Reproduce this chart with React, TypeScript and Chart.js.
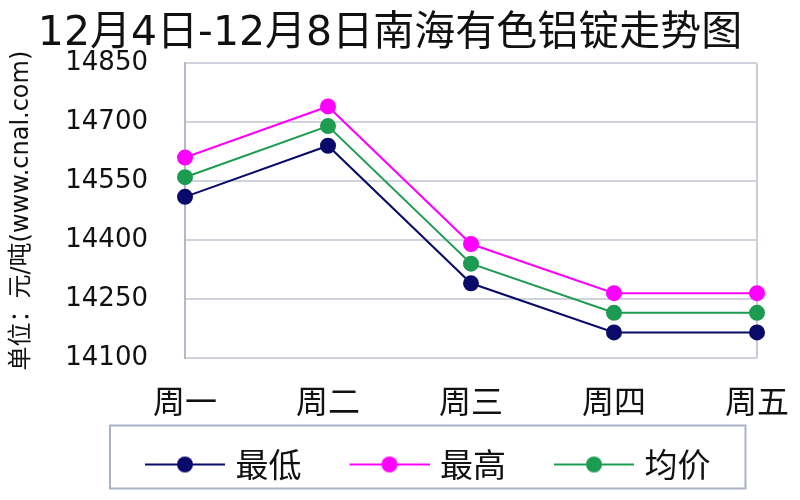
import { useEffect, useRef } from "react";
import { Chart, registerables } from "chart.js";

Chart.register(...registerables);

const titleText = "12月4日-12月8日南海有色铝锭走势图";
const yAxisTitle = "单位：元/吨(www.cnal.com)";
const categories = ["周一", "周二", "周三", "周四", "周五"];
const seriesNames = ["最低", "最高", "均价"];
const lowValues = [14510, 14640, 14290, 14165, 14165];
const highValues = [14610, 14740, 14390, 14265, 14265];
const avgValues = [14560, 14690, 14340, 14215, 14215];
const yMin = 14100;
const yMax = 14850;
const yStep = 150;

const seriesColors = ["#0a0a6a", "#ff00ff", "#1c9c50"];

const CJK = "'Noto Sans CJK SC', sans-serif";
const NUM = "'DejaVu Sans', 'Noto Sans CJK SC', sans-serif";

function makeIcon(color: string): HTMLCanvasElement {
  const c = document.createElement("canvas");
  c.width = 108;
  c.height = 20;
  const g = c.getContext("2d")!;
  g.strokeStyle = color;
  g.lineWidth = 2;
  g.beginPath();
  g.moveTo(28, 10);
  g.lineTo(108, 10);
  g.stroke();
  g.fillStyle = color;
  g.beginPath();
  g.arc(68, 10, 8, 0, Math.PI * 2);
  g.fill();
  return c;
}

export default function App() {
  const ref = useRef<HTMLCanvasElement | null>(null);

  useEffect(() => {
    document.body.style.margin = "0";
    const canvas = ref.current;
    if (!canvas) return;
    const icons = seriesColors.map(makeIcon);
    const values = [lowValues, highValues, avgValues];

    const legendFrame = {
      id: "legendFrame",
      afterLayout(chart: any) {
        const lg = chart.legend;
        if (lg && lg.lineWidths) {
          const pad = lg.options.labels.padding;
          const start = (lg.left + pad + lg.right - lg.lineWidths[0]) / 2;
          const shift = 123 - start;
          lg.left += shift;
          lg.right += shift;
        }
        const tb = chart.titleBlock;
        if (tb) {
          const shift = 390 - (tb.left + tb.right) / 2;
          tb.left += shift;
          tb.right += shift;
        }
      },
      afterDraw(chart: any) {
        const lg = chart.legend;
        if (!lg || !lg.legendHitBoxes || !lg.legendHitBoxes.length) return;
        const hb = lg.legendHitBoxes;
        const minX = Math.min(...hb.map((h: any) => h.left));
        const maxX = Math.max(...hb.map((h: any) => h.left + h.width));
        const cy = hb[0].top + hb[0].height / 2;
        const ctx = chart.ctx;
        ctx.save();
        ctx.strokeStyle = "#a9b1c2";
        ctx.lineWidth = 2;
        ctx.strokeRect(minX - 13, cy - 39, maxX - minX + 48, 63);
        ctx.restore();
      },
    };

    const chart = new Chart(canvas, {
      type: "line",
      data: {
        labels: categories,
        datasets: seriesNames.map((name, i) => ({
          label: name,
          data: values[i],
          borderColor: seriesColors[i],
          backgroundColor: seriesColors[i],
          pointBackgroundColor: seriesColors[i],
          pointBorderColor: seriesColors[i],
          borderWidth: 2,
          pointRadius: 7,
          pointHoverRadius: 7,
          tension: 0,
          fill: false,
        })),
      },
      options: {
        animation: false,
        responsive: false,
        maintainAspectRatio: false,
        layout: { padding: { left: 0, right: 43, top: 0, bottom: 9 } },
        plugins: {
          title: {
            display: true,
            text: titleText,
            color: "#111",
            font: { family: NUM, size: 41, weight: "normal" },
            padding: { top: 10, bottom: 4 },
          },
          legend: {
            display: true,
            position: "bottom",
            labels: {
              usePointStyle: true,
              pointStyleWidth: 96,
              boxHeight: 20,
              padding: 26,
              color: "#111",
              font: { family: CJK, size: 33 },
              generateLabels: (ch: any) =>
                ch.data.datasets.map((ds: any, i: number) => ({
                  text: ds.label,
                  pointStyle: icons[i],
                  fillStyle: seriesColors[i],
                  strokeStyle: seriesColors[i],
                  lineWidth: 0,
                  hidden: false,
                  datasetIndex: i,
                  fontColor: "#111",
                })),
            },
          },
          tooltip: { enabled: false },
        },
        scales: {
          x: {
            offset: false,
            border: { display: false },
            grid: {
              drawTicks: false,
              color: (c: any) => (c.index === categories.length - 1 ? "#c9ced8" : "rgba(0,0,0,0)"),
              lineWidth: 2,
            },
            ticks: {
              color: "#111",
              padding: 24,
              font: { family: CJK, size: 32 },
              maxRotation: 0,
            },
            afterFit: (s: any) => {
              s.height = 64;
              s.paddingRight = 0;
              s.paddingLeft = 0;
            },
          },
          y: {
            min: yMin,
            max: yMax,
            border: { display: true, color: "#b4b9c6", width: 2 },
            grid: { drawTicks: false, color: "#cfd3dc", lineWidth: 2 },
            ticks: {
              stepSize: yStep,
              color: "#111",
              padding: 37,
              font: { family: NUM, size: 26 },
              callback: (v: any) => String(v),
            },
            title: {
              display: true,
              text: yAxisTitle,
              color: "#111",
              font: { family: NUM, size: 24 },
              padding: { top: 7, bottom: 0 },
            },
            afterFit: (s: any) => {
              s.width = 185;
            },
          },
        },
      },
      plugins: [legendFrame],
    } as any);

    return () => chart.destroy();
  }, []);

  return (
    <div style={{ width: 800, height: 500, background: "#fff" }}>
      <canvas ref={ref} width={800} height={500} style={{ display: "block" }} />
    </div>
  );
}
